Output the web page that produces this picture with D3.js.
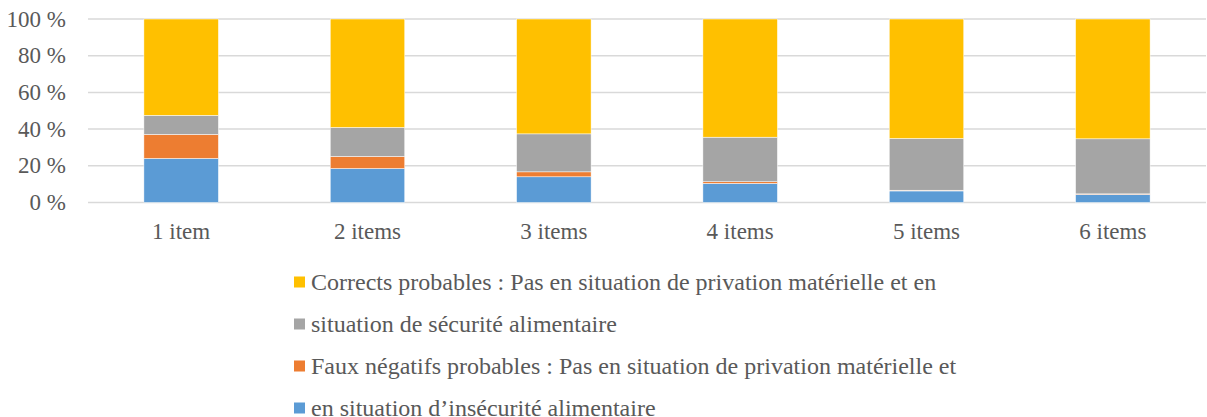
<!DOCTYPE html>
<html><head><meta charset="utf-8">
<script src="https://cdn.jsdelivr.net/npm/d3@7"></script>
<style>body{margin:0;background:#fff}svg{display:block}</style>
</head><body>
<svg id="c" width="1207" height="417"></svg>
<script>
const categories = ["1 item","2 items","3 items","4 items","5 items","6 items"];
const blueVals   = [24.0, 18.5, 14.0, 10.4, 6.3, 4.4];
const orangeVals = [13.1, 6.6, 2.7, 0.9, 0.4, 0.3];
const grayVals   = [10.4, 15.8, 20.7, 24.3, 28.2, 30.0];
const yellowVals = [52.5, 59.1, 62.6, 64.4, 65.1, 65.3];
const tickValues = [0,20,40,60,80,100];
const tickLabels = ["0 %","20 %","40 %","60 %","80 %","100 %"];
const seriesKeys = ["blue","orange","gray","yellow"];
const seriesColors = {blue:"#5B9BD5", orange:"#ED7D31", gray:"#A5A5A5", yellow:"#FFC000"};
const legendLabels = [
  "Corrects probables : Pas en situation de privation matérielle et en",
  "situation de sécurité alimentaire",
  "Faux négatifs probables : Pas en situation de privation matérielle et",
  "en situation d\u2019insécurité alimentaire"
];
const legendKeys = ["yellow","gray","orange","blue"];

const rows = categories.map((c,i)=>({cat:c, blue:blueVals[i], orange:orangeVals[i], gray:grayVals[i], yellow:yellowVals[i]}));
const svg = d3.select("#c");
const font = "'Liberation Serif','Times New Roman',serif";
const x = d3.scaleBand().domain(categories).range([88,1206]).paddingInner(0.6).paddingOuter(0.3);
const y = d3.scaleLinear().domain([0,100]).range([202.5,19]);

svg.append("g").selectAll("line").data(tickValues).join("line")
  .attr("x1",88).attr("x2",1206).attr("y1",d=>y(d)).attr("y2",d=>y(d))
  .attr("stroke","#d9d9d9").attr("stroke-width",1.5);

svg.append("g").selectAll("text").data(tickValues).join("text")
  .attr("x",66).attr("y",d=>y(d)).attr("dy","0.33em").attr("text-anchor","end")
  .attr("font-family",font).attr("font-size",23).attr("fill","#595959")
  .text((d,i)=>tickLabels[i]);

const stack = d3.stack().keys(seriesKeys)(rows);
svg.append("g").selectAll("g").data(stack).join("g")
  .attr("fill",d=>seriesColors[d.key])
  .selectAll("rect").data(d=>d).join("rect")
  .attr("x",d=>x(d.data.cat)).attr("width",x.bandwidth())
  .attr("y",d=>y(d[1])).attr("height",d=>y(d[0])-y(d[1]))
  .attr("stroke","#fff").attr("stroke-width",0.5);

svg.append("g").selectAll("text").data(categories).join("text")
  .attr("x",d=>x(d)+x.bandwidth()/2).attr("y",239).attr("text-anchor","middle")
  .attr("font-family",font).attr("font-size",23).attr("fill","#595959").text(d=>d);

const lg = svg.append("g");
legendKeys.forEach((k,i)=>{
  const cy = 282 + i*42;
  lg.append("rect").attr("x",294).attr("y",cy-5.5).attr("width",11).attr("height",11).attr("fill",seriesColors[k]);
  lg.append("text").attr("x",311).attr("y",cy).attr("dy","0.33em")
    .attr("font-family",font).attr("font-size",24).attr("fill","#595959").text(legendLabels[i]);
});
</script>
</body></html>
